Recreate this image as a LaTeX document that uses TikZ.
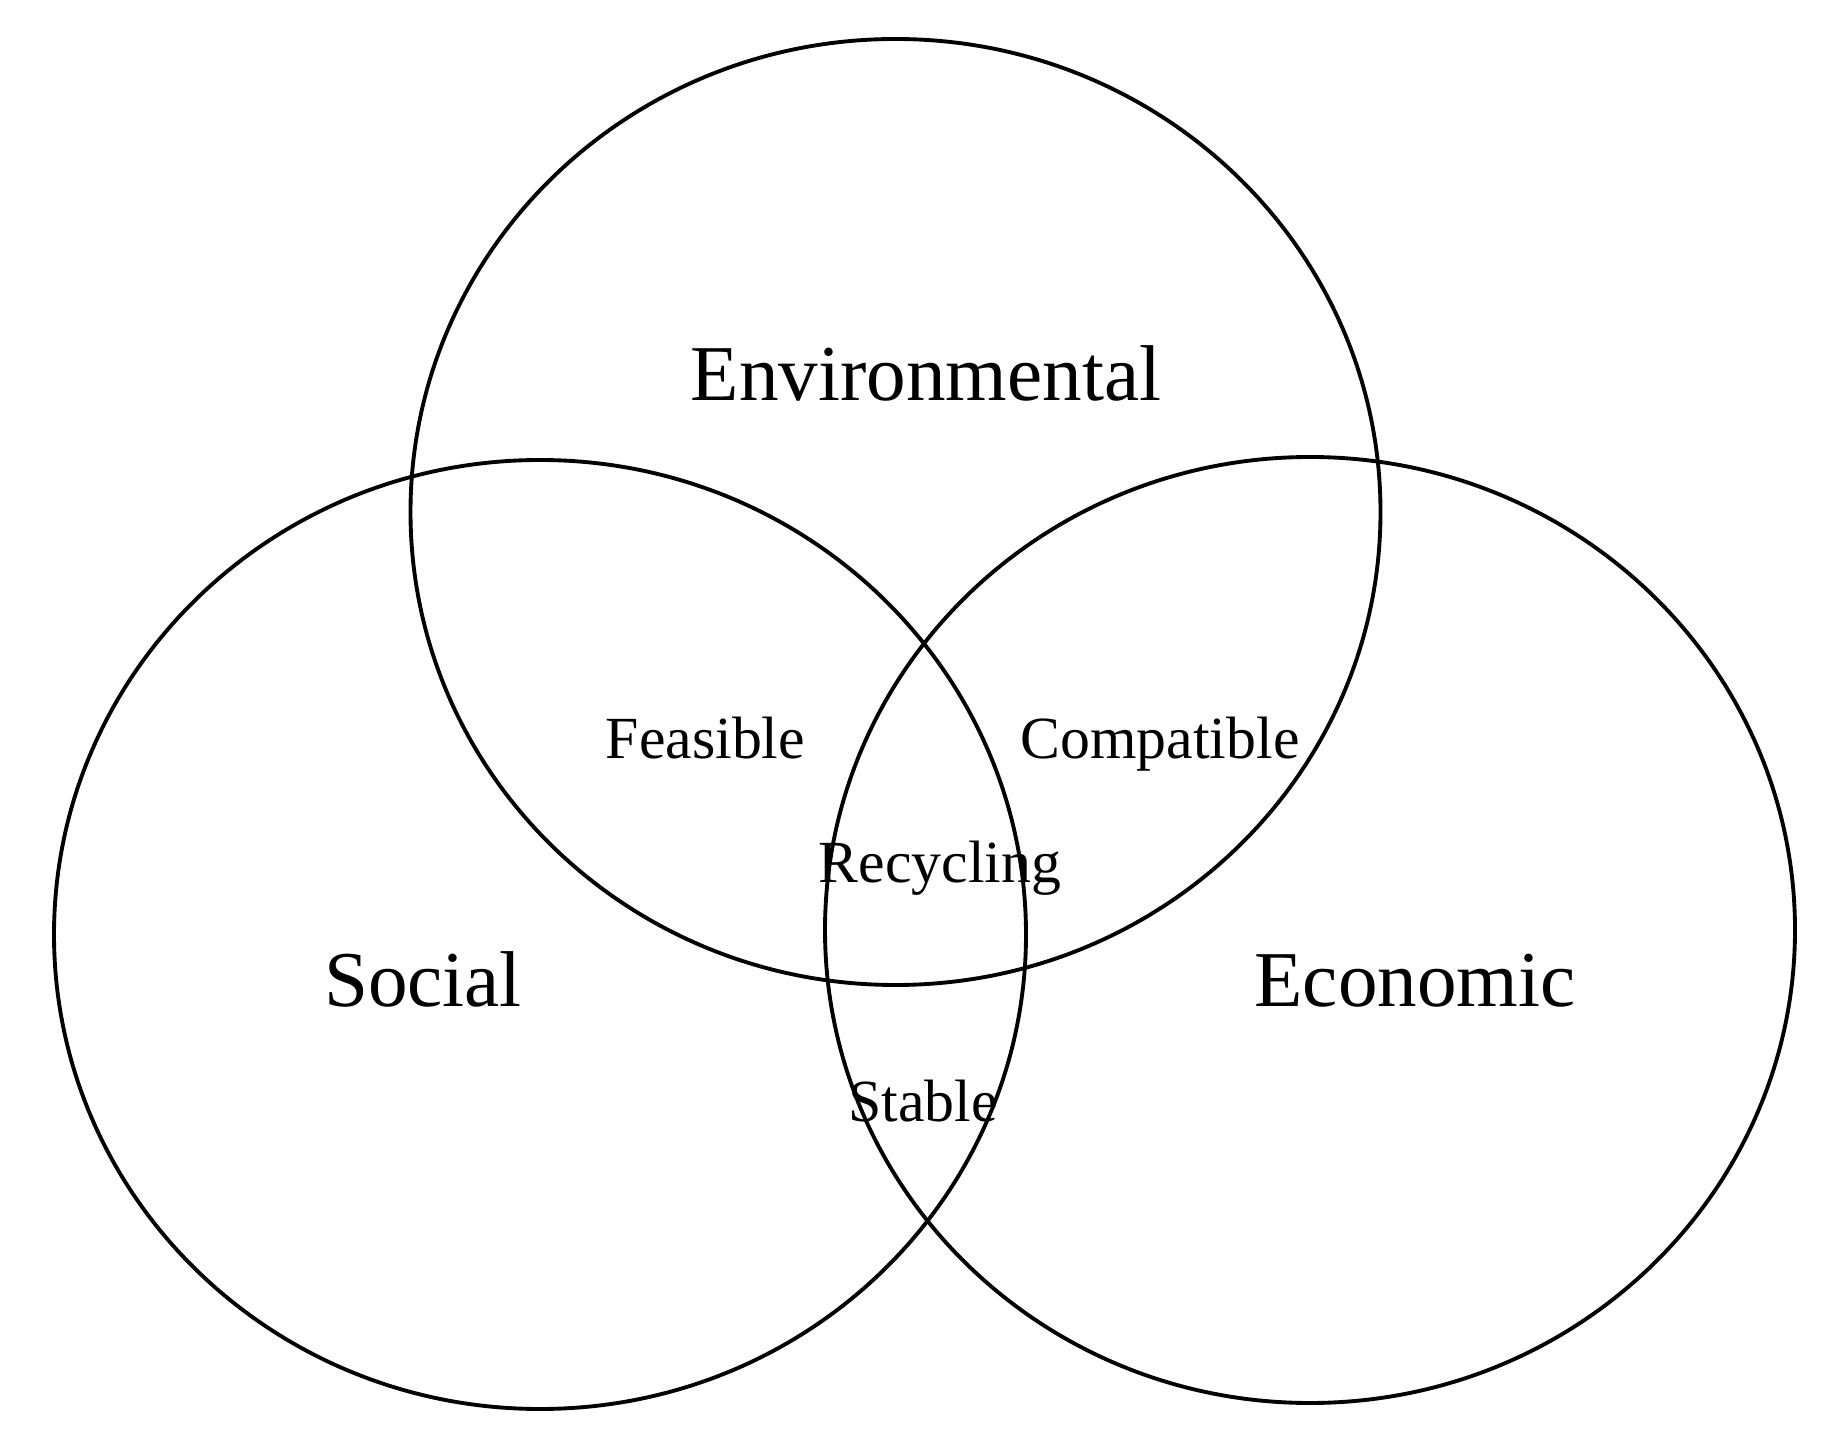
\documentclass[tikz,border=0pt]{standalone}
\usepackage{fontspec}
\setmainfont{Liberation Serif}
\usepackage{tikz}

\begin{document}
\begin{tikzpicture}[x=0.01cm,y=0.01cm,
    ring/.style={line width=1.1pt, black},
    big/.style={anchor=base, inner sep=0pt, font=\fontsize{22.5}{26}\selectfont},
    small/.style={anchor=base, inner sep=0pt, font=\fontsize{17}{20}\selectfont}]
      \useasboundingbox (0,0) rectangle (1836,1451) ;
      \coordinate (env) at (895.5,939) ;
      \coordinate (soc) at (540,516.5) ;
      \coordinate (eco) at (1310,521) ;
      \draw[ring] (env) ellipse [x radius=485, y radius=473] ;
      \draw[ring] (soc) ellipse [x radius=486, y radius=474.5] ;
      \draw[ring] (eco) ellipse [x radius=485, y radius=473] ;
      \node[big] (envtext) at (926,1050.5) {Environmental} ;
      \node[big] (soctext) at (423,444) {Social} ;
      \node[big] (ecotext) at (1415,444) {Economic} ;
      \node[small] (feas) at (705.5,692) {Feasible} ;
      \node[small] (comp) at (1160,692) {Compatible} ;
      \node[small] (recy) at (940,568) {Recycling} ;
      \node[small] (stab) at (923,329) {Stable} ;
      %\node[small] (mid) at (0,0) {} ;
    \end{tikzpicture}
\end{document}
